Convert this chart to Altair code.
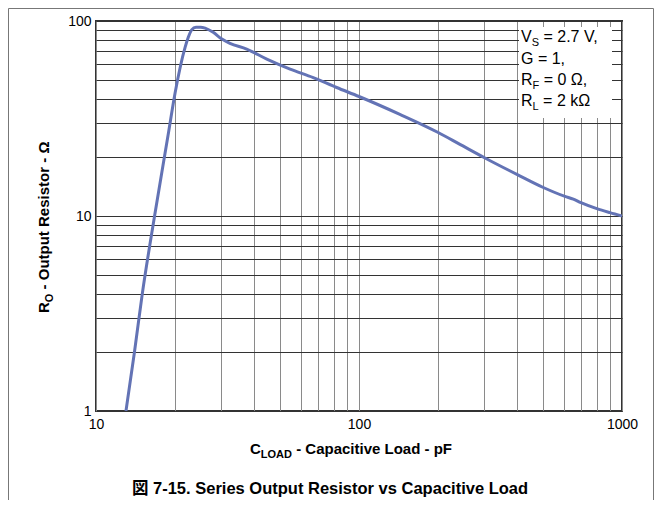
import altair as alt
import pandas as pd

# ---- data ----
cload = [13.0, 14.0, 15.0, 16.7, 18.8, 20.0, 21.8, 22.4, 23.1, 24.0, 25.0, 26.0,
         27.9, 30.0, 32.3, 37.4, 44.6, 54.7, 67.0, 82.2, 100, 143, 200, 242,
         300, 400, 502, 607, 653, 698, 802, 900, 1000]
ro = [1.0, 2.0, 4.0, 10.0, 26.0, 43.0, 73.0, 82.0, 90.0, 93.0, 93.0, 92.0,
      87.5, 81.0, 76.8, 71.8, 63.8, 56.7, 51.3, 45.6, 41.0, 33.2, 26.8, 23.3,
      19.9, 16.3, 14.0, 12.6, 12.2, 11.7, 10.9, 10.4, 10.0]

x_grid = [10, 20, 30, 40, 50, 60, 70, 80, 90, 100, 200, 300, 400, 500, 600, 700, 800, 900, 1000]
y_grid = [1, 2, 3, 4, 5, 6, 7, 8, 9, 10, 20, 30, 40, 50, 60, 70, 80, 90, 100]
x_label_values = [10, 100, 1000]
y_label_values = [1, 10, 100]

legend_lines = [("V", "S", " = 2.7 V,"), ("G = 1,", "", ""), ("R", "F", " = 0 \u03a9,"), ("R", "L", " = 2 k\u03a9")]
x_title = ("C", "LOAD", " - Capacitive Load - pF")
y_title = ("R", "O", " - Output Resistor - \u03a9")
caption = "\u56f3 7-15. Series Output Resistor vs Capacitive Load"

# ---- layout ----
W, H = 526, 390
FONT = "Liberation Sans"
CAP_FONT = "Liberation Sans, Noto Sans CJK JP"
LINE_COLOR = "#6373b5"

REG = {'V': .667, 'S': .667, ' ': .278, '=': .584, '2': .556, '.': .278, '7': .556, ',': .278,
       'G': .778, 'R': .722, 'F': .611, 'L': .556, '0': .556, 'k': .5, '\u03a9': .768, '1': .556}
BOLD = {'C': .722, 'L': .611, 'O': .778, 'A': .722, 'D': .722, 'R': .722, ' ': .278}


def tw(s, size, bold=False):
    table = BOLD if bold else REG
    return sum(table.get(c, .556) for c in s) * size


one = pd.DataFrame({"k": [0]})


def txt(s, x, y, size, bold=False, angle=0, align="left", font=FONT):
    # leading spaces are collapsed by the renderer: shift the anchor instead
    lead = len(s) - len(s.lstrip(" "))
    shift = tw(" " * lead, size, bold)
    if angle == 270:
        y = y - shift
    else:
        x = x + shift
    s = s.lstrip(" ")
    return alt.Chart(one).mark_text(
        align=align, baseline="alphabetic", font=font, fontSize=size,
        fontWeight="bold" if bold else "normal", angle=angle, color="black"
    ).encode(x=alt.value(x), y=alt.value(y), text=alt.value(s))


df = pd.DataFrame({"cload": cload, "ro": ro})


def label_expr(vals):
    cond = " || ".join(f"datum.value == {v}" for v in vals)
    return f"({cond}) ? format(datum.value, 'd') : ''"


line = alt.Chart(df).mark_line(
    color=LINE_COLOR, strokeWidth=3, interpolate="monotone", clip=True
).encode(
    x=alt.X("cload:Q", scale=alt.Scale(type="log", domain=[10, 1000], nice=False),
            axis=alt.Axis(values=x_grid, labelExpr=label_expr(x_label_values), grid=True,
                          gridColor="#8a8a8a", gridWidth=1, ticks=False, domain=False,
                          title=None, labelFont=FONT, labelFontSize=14, labelColor="black",
                          labelPadding=6, labelFlush=False, labelOverlap=False)),
    y=alt.Y("ro:Q", scale=alt.Scale(type="log", domain=[1, 100], nice=False),
            axis=alt.Axis(values=y_grid, labelExpr=label_expr(y_label_values), grid=True,
                          gridColor="#333333", gridWidth=1, ticks=False, domain=False,
                          title=None, labelFont=FONT, labelFontSize=14, labelColor="black",
                          labelPadding=5, labelOverlap=False)),
)

# legend box covering grid
box = alt.Chart(one).mark_rect(fill="white", stroke=None).encode(
    x=alt.value(423), x2=alt.value(516), y=alt.value(6), y2=alt.value(97)
)

layers = [line, box]

# legend text
lx = 425
lys = [21, 42.5, 64, 85]
for (main, sub, rest), ly in zip(legend_lines, lys):
    layers.append(txt(main, lx, ly, 16))
    if sub:
        x1 = lx + tw(main, 16)
        layers.append(txt(sub, x1, ly + 4, 11))
        layers.append(txt(rest, x1 + tw(sub, 11), ly, 16))

# x axis title with subscript
xt0, xty = 154, 433
layers.append(txt(x_title[0], xt0, xty, 15, bold=True))
x1 = xt0 + tw(x_title[0], 15, True)
layers.append(txt(x_title[1], x1, xty + 4, 11, bold=True))
layers.append(txt(x_title[2], x1 + tw(x_title[1], 11, True), xty, 15, bold=True))

# y axis title (rotated) with subscript
ytx, yt0 = -47, 292
layers.append(txt(y_title[0], ytx, yt0, 15, bold=True, angle=270))
y1 = yt0 - tw(y_title[0], 15, True)
layers.append(txt(y_title[1], ytx + 4, y1, 11, bold=True, angle=270))
layers.append(txt(y_title[2], ytx, y1 - tw(y_title[1], 11, True), 15, bold=True, angle=270))

# caption
layers.append(txt(caption, 234, 473, 16.5, bold=True, align="center", font=CAP_FONT))

# outer frame (left, top, right)
fr = dict(color="#777777", strokeWidth=1)
layers.append(alt.Chart(one).mark_rule(**fr).encode(x=alt.value(-87.5), y=alt.value(-12.5), y2=alt.value(479)))
layers.append(alt.Chart(one).mark_rule(**fr).encode(x=alt.value(-87.5), x2=alt.value(557.5), y=alt.value(-12.5)))
layers.append(alt.Chart(one).mark_rule(**fr).encode(x=alt.value(557.5), y=alt.value(-12.5), y2=alt.value(479)))

chart = alt.layer(*layers).properties(
    width=W, height=H,
    padding={"left": 88, "top": 13, "right": 32, "bottom": 89},
    autosize=alt.AutoSizeParams(type="none"),
    background="white",
).configure_view(stroke="#333333", strokeWidth=2)

chart.save("out.html", embed_options={"renderer": "svg", "actions": False})
